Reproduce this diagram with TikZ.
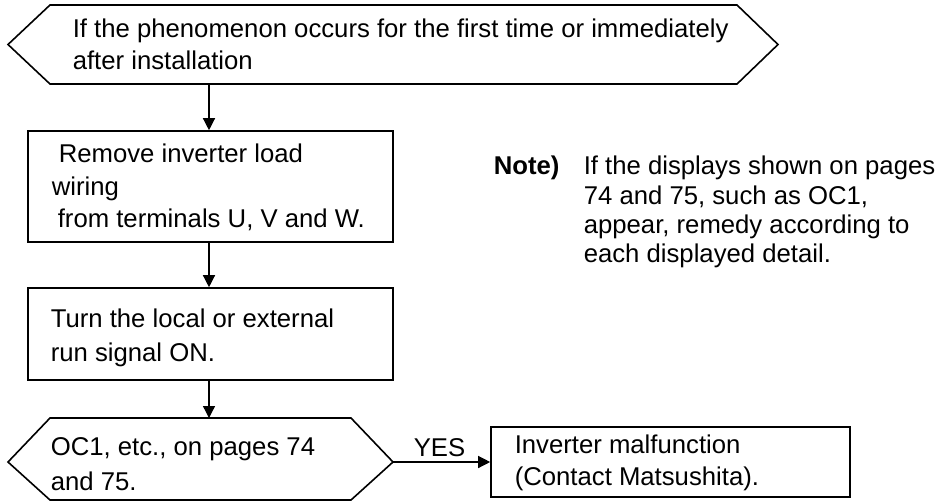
\documentclass[tikz,border=0pt]{standalone}
\usepackage{fontspec}
\setmainfont{Liberation Sans}
\usetikzlibrary{arrows.meta}
\begin{document}
\begin{tikzpicture}[x=1pt,y=-1pt,line width=1.6pt,
  txt/.style={anchor=base west,inner sep=0pt,font=\fontsize{25.7}{32}\selectfont},
  notetxt/.style={txt,font=\fontsize{25.7}{32}\selectfont\bfseries},
  conn/.style={-{Triangle[length=12pt,width=12pt]},line width=1.3pt},
  boxnode/.style={draw,rectangle,inner sep=0pt}]
\useasboundingbox (0,0) rectangle (950,501);
% top hexagon
\draw (8,44.5) -- (50,5) -- (737,5) -- (778,44.5) -- (737,84) -- (50,84) -- cycle;
\coordinate (h1bot) at (209,84);
\node[txt] (t1a) at (72,37) {If the phenomenon occurs for the first time or immediately};
\node[txt] (t1b) at (72,69) {after installation};
% box 1
\node[boxnode,minimum width=365pt,minimum height=111pt] (b1) at (210.5,186.5) {};
\node[txt] (t2a) at (58,162) {Remove inverter load};
\node[txt] (t2b) at (51,195) {wiring};
\node[txt] (t2c) at (57,227) {from terminals U, V and W.};
% box 2
\node[boxnode,minimum width=365pt,minimum height=92pt] (b2) at (210.5,334) {};
\node[txt] (t3a) at (50,327) {Turn the local or external};
\node[txt] (t3b) at (50,361) {run signal ON.};
% bottom hexagon
\draw (8,462) -- (50,418) -- (351,418) -- (393,462) -- (351,500) -- (50,500) -- cycle;
\coordinate (h2top) at (209,418);
\coordinate (h2right) at (393,462);
\node[txt] (t4a) at (50,455) {OC1, etc., on pages 74};
\node[txt] (t4b) at (50,490) {and 75.};
% box 3
\node[boxnode,minimum width=359pt,minimum height=70pt] (b3) at (670.5,462) {};
\node[txt] (t5a) at (514,453) {Inverter malfunction};
\node[txt] (t5b) at (514,485) {(Contact Matsushita).};
% YES
\node[txt] (yes) at (413,456) {YES};
% note
\node[notetxt] (note) at (493,174) {Note)};
\node[txt] (n1) at (583,174) {If the displays shown on pages};
\node[txt] (n2) at (583,204) {74 and 75, such as OC1,};
\node[txt] (n3) at (583,233) {appear, remedy according to};
\node[txt] (n4) at (583,262) {each displayed detail.};
% connectors
\draw[conn] (h1bot) -- (h1bot |- b1.north);
\draw[conn] (b1.south -| h1bot) -- (h1bot |- b2.north);
\draw[conn] (b2.south -| h1bot) -- (h2top);
\draw[conn] (h2right) -- (b3.west);
\end{tikzpicture}
\end{document}
